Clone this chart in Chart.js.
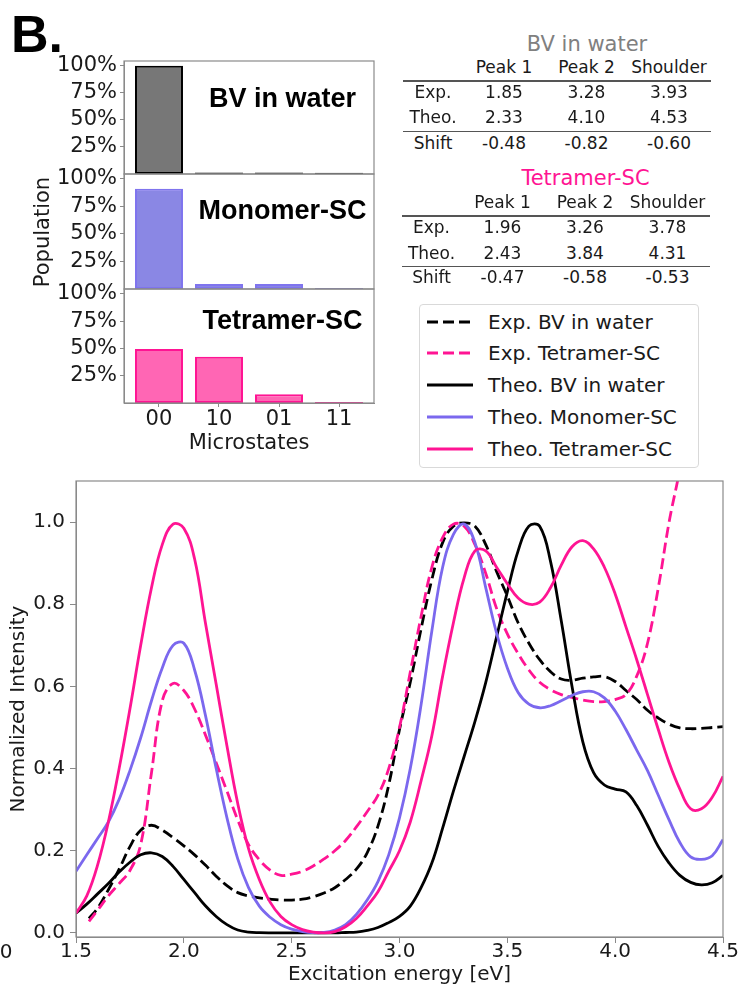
<!DOCTYPE html>
<html><head><meta charset="utf-8">
<script src="https://cdn.jsdelivr.net/npm/chart.js@4"></script>
<style>
html,body{margin:0;padding:0;background:#fff;}
body{width:744px;height:990px;position:relative;overflow:hidden;font-family:"DejaVu Sans",sans-serif;color:#1a1a1a;}
canvas{position:absolute;left:0;}
.t{position:absolute;white-space:nowrap;line-height:1;}
.c{transform:translate(-50%,-50%);}
.l{transform:translate(0,-50%);}
.rule{position:absolute;height:1.5px;background:#555;}
#legend{position:absolute;left:419px;top:304px;width:278px;height:162px;border:1px solid #d9d9d9;border-radius:4px;background:#fff;z-index:3;}
</style></head><body>
<canvas id="bar1" width="390" height="145" style="top:45px"></canvas>
<canvas id="bar2" width="390" height="147" style="top:158px"></canvas>
<canvas id="bar3" width="390" height="187" style="top:273px"></canvas>
<canvas id="main" width="744" height="530" style="top:460px"></canvas>
<div id="legend"></div>
<script>
// ---------------- DATA ----------------
const microstates = ['00', '10', '01', '11'];
const popBV       = [1.00, 0.015, 0.015, 0.012];
const popMonomer  = [0.91, 0.045, 0.045, 0.008];
const popTetramer = [0.495, 0.425, 0.08, 0.01];
const popTicks = [0.25, 0.5, 0.75, 1.0];

const panelNames = ['BV in water', 'Monomer-SC', 'Tetramer-SC'];

const tableCols = ['Peak 1', 'Peak 2', 'Shoulder'];
const tableRows = ['Exp.', 'Theo.', 'Shift'];
const tableBV  = [['1.85', '3.28', '3.93'], ['2.33', '4.10', '4.53'], ['-0.48', '-0.82', '-0.60']];
const tableTet = [['1.96', '3.26', '3.78'], ['2.43', '3.84', '4.31'], ['-0.47', '-0.58', '-0.53']];

const energyTheo = [1.50,1.55,1.60,1.65,1.70,1.75,1.80,1.85,1.90,1.95,
                    2.00,2.05,2.10,2.15,2.20,2.25,2.30,2.35,2.40,2.45,
                    2.50,2.55,2.60,2.65,2.70,2.75,2.80,2.85,2.90,2.95,
                    3.00,3.05,3.10,3.15,3.20,3.25,3.30,3.35,3.40,3.45,
                    3.50,3.55,3.60,3.65,3.70,3.75,3.80,3.85,3.90,3.95,
                    4.00,4.05,4.10,4.15,4.20,4.25,4.30,4.35,4.40,4.45,
                    4.50];
const theoBV = [0.048,0.07,0.095,0.12,0.148,0.172,0.19,0.195,0.186,0.162,
                0.13,0.098,0.066,0.04,0.02,0.007,0.002,0.0005,0,0,
                0,0,0,0,0,0.001,0.002,0.006,0.013,0.025,
                0.04,0.065,0.11,0.17,0.255,0.345,0.43,0.515,0.61,0.72,
                0.83,0.93,0.99,0.99,0.905,0.76,0.6,0.465,0.39,0.36,
                0.35,0.343,0.31,0.262,0.21,0.17,0.14,0.123,0.117,0.122,
                0.14];
const theoMonomer = [0.15,0.19,0.23,0.27,0.325,0.395,0.475,0.565,0.645,0.70,
                     0.705,0.64,0.53,0.40,0.28,0.18,0.11,0.065,0.038,0.02,
                     0.009,0.003,0.0005,0.001,0.007,0.02,0.045,0.08,0.125,0.19,
                     0.28,0.40,0.555,0.735,0.89,0.97,0.995,0.95,0.84,0.73,
                     0.645,0.585,0.557,0.548,0.553,0.565,0.578,0.587,0.587,0.572,
                     0.54,0.495,0.445,0.395,0.335,0.275,0.22,0.185,0.179,0.188,
                     0.227];
const theoTetramer = [0.048,0.09,0.165,0.27,0.40,0.545,0.70,0.84,0.945,0.995,
                      0.985,0.91,0.755,0.605,0.455,0.315,0.205,0.13,0.075,0.04,
                      0.02,0.008,0.002,0.0,0.003,0.015,0.035,0.065,0.10,0.15,
                      0.20,0.27,0.37,0.48,0.625,0.755,0.865,0.93,0.93,0.89,
                      0.85,0.815,0.80,0.805,0.84,0.895,0.94,0.955,0.935,0.89,
                      0.825,0.745,0.665,0.58,0.495,0.415,0.35,0.302,0.302,0.33,
                      0.381];

const energyExp = [1.56,1.60,1.65,1.70,1.75,1.80,1.85,1.90,1.95,
                   2.00,2.05,2.10,2.15,2.20,2.25,2.30,2.35,2.40,2.45,
                   2.50,2.55,2.60,2.65,2.70,2.75,2.80,2.85,2.90,2.95,
                   3.00,3.05,3.10,3.15,3.20,3.25,3.30,3.35,3.40,3.45,
                   3.50,3.55,3.60,3.65,3.70,3.75,3.80,3.85,3.90,3.95,
                   4.00,4.05,4.10,4.15,4.20,4.25,4.30,4.35,4.40,4.45,
                   4.50];
const expBV = [0.035,0.06,0.105,0.155,0.21,0.25,0.262,0.25,0.232,
               0.212,0.19,0.165,0.138,0.115,0.098,0.09,0.085,0.082,0.08,
               0.08,0.082,0.088,0.097,0.11,0.13,0.155,0.195,0.26,0.36,
               0.495,0.61,0.74,0.86,0.95,0.99,0.998,0.99,0.945,0.88,
               0.82,0.755,0.705,0.665,0.636,0.618,0.615,0.62,0.623,0.624,
               0.612,0.59,0.568,0.542,0.523,0.508,0.499,0.497,0.498,0.50,
               0.502];
const expTetramer = [0.028,0.055,0.09,0.12,0.152,0.215,0.39,0.565,0.607,
                     0.59,0.545,0.482,0.414,0.345,0.275,0.215,0.178,0.153,0.14,
                     0.143,0.15,0.163,0.18,0.20,0.225,0.258,0.295,0.335,0.40,
                     0.50,0.635,0.77,0.89,0.962,0.995,0.99,0.945,0.875,0.79,
                     0.728,0.68,0.64,0.61,0.592,0.58,0.573,0.567,0.563,0.563,
                     0.568,0.58,0.625,0.705,0.84,1.0,1.13,1.3,null,null,
                     null];

const energyTicks = [1.5, 2.0, 2.5, 3.0, 3.5, 4.0, 4.5];
const intensityTicks = [0.0, 0.2, 0.4, 0.6, 0.8, 1.0];

const seriesLabels = ['Exp. BV in water', 'Exp. Tetramer-SC', 'Theo. BV in water', 'Theo. Monomer-SC', 'Theo. Tetramer-SC'];

// ---------------- STYLE ----------------
const FAM = "'DejaVu Sans', sans-serif";
const BLACK = '#000000', BLUE = '#7B68EE', PINK = '#FF1493';
const SPINE = '#8a8a8a', TXT = '#1a1a1a';
Chart.defaults.font.family = FAM;
Chart.defaults.color = TXT;

const framePlugin = {
  id: 'frame',
  afterDraw(chart) {
    const a = chart.chartArea, ctx = chart.ctx;
    ctx.save();
    ctx.strokeStyle = SPINE; ctx.lineWidth = 1.2;
    ctx.strokeRect(a.left, a.top, a.right - a.left, a.bottom - a.top);
    ctx.restore();
  }
};

// ---------------- HTML TEXT ----------------
function txt(s, x, y, cls, css) {
  const d = document.createElement('div');
  d.className = 't ' + cls;
  d.textContent = s;
  d.style.left = x + 'px'; d.style.top = y + 'px';
  const parent = css && css.parent ? css.parent : document.body;
  const st = Object.assign({}, css || {}); delete st.parent;
  Object.assign(d.style, st);
  parent.appendChild(d);
  return d;
}
function rule(x1, x2, y) {
  const d = document.createElement('div');
  d.className = 'rule';
  d.style.left = x1 + 'px'; d.style.width = (x2 - x1) + 'px'; d.style.top = (y - 0.75) + 'px';
  document.body.appendChild(d);
}

txt('B.', 37, 34, 'c', {fontFamily: "'Liberation Sans', Arial, sans-serif", fontWeight: 'bold', fontSize: '52px', color: '#000'});
const panelY = [98, 210, 320];
panelNames.forEach((n, i) => txt(n, 282.5, panelY[i], 'c', {fontFamily: "'Liberation Sans', Arial, sans-serif", fontWeight: 'bold', fontSize: '27px', color: '#000'}));
txt('Population', 42, 232, 'c', {fontSize: '21px', transform: 'translate(-50%,-50%) rotate(-90deg)'});
txt('0', 6, 951, 'c', {fontSize: '20px'});

function table(title, color, data, dx, ys) {
  const colX = [433 + dx, 504 + dx, 586.5 + dx, 669 + dx];
  txt(title, 587 + dx, ys.title, 'c', {fontSize: '21px', color: color});
  tableCols.forEach((c, j) => txt(c, colX[j + 1], ys.head, 'c', {fontSize: '17px'}));
  rule(403 + dx, 711 + dx, ys.r1);
  tableRows.forEach((r, i) => {
    txt(r, colX[0], ys.rows[i], 'c', {fontSize: '17px'});
    data[i].forEach((v, j) => txt(v, colX[j + 1], ys.rows[i], 'c', {fontSize: '17px'}));
  });
  rule(403 + dx, 711 + dx, ys.r2);
}
table('BV in water', '#808080', tableBV, 0, {title: 44, head: 66.7, r1: 81, rows: [91.7, 117.3, 143.3], r2: 131.7});
table('Tetramer-SC', PINK, tableTet, -1.5, {title: 178.3, head: 201.7, r1: 216, rows: [227.3, 252.7, 277.3], r2: 266.7});

// ---------------- LEGEND ----------------
const legendStyles = [
  {color: BLACK, dash: '11,5'}, {color: PINK, dash: '11,5'},
  {color: BLACK, dash: ''}, {color: BLUE, dash: ''}, {color: PINK, dash: ''}
];
const legend = document.getElementById('legend');
const legendRowY = [17, 48, 80, 112, 144];
seriesLabels.forEach((lab, i) => {
  const st = legendStyles[i];
  const svgNS = 'http://www.w3.org/2000/svg';
  const svg = document.createElementNS(svgNS, 'svg');
  svg.setAttribute('width', '48'); svg.setAttribute('height', '8');
  svg.style.position = 'absolute'; svg.style.left = '6px'; svg.style.top = (legendRowY[i] - 4) + 'px';
  const ln = document.createElementNS(svgNS, 'line');
  ln.setAttribute('x1', '1'); ln.setAttribute('x2', '47'); ln.setAttribute('y1', '4'); ln.setAttribute('y2', '4');
  ln.setAttribute('stroke', st.color); ln.setAttribute('stroke-width', '3');
  if (st.dash) ln.setAttribute('stroke-dasharray', st.dash);
  svg.appendChild(ln); legend.appendChild(svg);
  txt(lab, 68, legendRowY[i], 'l', {fontSize: '20px', parent: legend});
});

// ---------------- BAR PANELS ----------------
function barChart(id, values, fill, edge, showX) {
  return new Chart(document.getElementById(id), {
    type: 'bar',
    data: {datasets: [{
      data: values.map((v, i) => ({x: i, y: v})),
      backgroundColor: fill, borderColor: edge, borderWidth: 2, borderSkipped: false,
      barPercentage: 1.0, categoryPercentage: 0.8
    }]},
    options: {
      responsive: false, animation: false, devicePixelRatio: 1,
      layout: {padding: {top: 16, bottom: showX ? 0 : 16, left: 0, right: 16}},
      plugins: {legend: {display: false}, tooltip: {enabled: false}},
      scales: {
        x: {
          type: 'linear', min: -0.583, max: 3.583, offset: false, display: showX,
          afterBuildTicks(s) { s.ticks = microstates.map((_, i) => ({value: i})); },
          afterFit(s) { s.height = showX ? 57 : 0; },
          grid: {drawOnChartArea: false, offset: false, tickLength: 4, color: SPINE},
          border: {color: SPINE},
          ticks: {padding: 0, font: {size: 21}, color: TXT, autoSkip: false, maxRotation: 0,
                  callback: v => microstates[v]},
          title: {display: true, text: 'Microstates', font: {size: 21}, color: TXT, padding: {top: 0, bottom: 4}}
        },
        y: {
          min: 0, max: 1.045,
          afterBuildTicks(s) { s.ticks = popTicks.map(v => ({value: v})); },
          afterFit(s) { s.width = 124; },
          grid: {drawOnChartArea: false, tickLength: 4, color: SPINE},
          border: {color: SPINE},
          ticks: {padding: 3, font: {size: 21}, color: TXT, callback: v => Math.round(v * 100) + '%'}
        }
      }
    },
    plugins: [framePlugin]
  });
}
barChart('bar1', popBV, '#777777', '#000000', false);
barChart('bar2', popMonomer, '#8a87e4', '#7f74ee', false);
barChart('bar3', popTetramer, '#ff66b4', PINK, true);

// ---------------- MAIN SPECTRUM ----------------
function series(xs, ys, label, color, dashed) {
  return {
    label, data: xs.map((x, i) => ({x, y: ys[i]})),
    borderColor: color, borderWidth: 2.8, borderDash: dashed ? [11, 5] : [],
    pointRadius: 0, fill: false, tension: 0.4, spanGaps: false
  };
}
const mainSets = [
  series(energyExp, expBV, seriesLabels[0], BLACK, true),
  series(energyExp, expTetramer, seriesLabels[1], PINK, true),
  series(energyTheo, theoBV, seriesLabels[2], BLACK, false),
  series(energyTheo, theoMonomer, seriesLabels[3], BLUE, false),
  series(energyTheo, theoTetramer, seriesLabels[4], PINK, false)
];
mainSets.forEach((d, i) => d.order = mainSets.length - i);

new Chart(document.getElementById('main'), {
  type: 'line',
  data: {datasets: mainSets},
  options: {
    responsive: false, animation: false, devicePixelRatio: 1,
    layout: {padding: {top: 21, right: 21, left: 0, bottom: 0}},
    plugins: {legend: {display: false}, tooltip: {enabled: false}},
    scales: {
      x: {
        type: 'linear', min: 1.5, max: 4.5,
        afterBuildTicks(s) { s.ticks = energyTicks.map(v => ({value: v})); },
        afterFit(s) { s.height = 53; },
        grid: {drawOnChartArea: false, tickLength: 6, color: SPINE},
        border: {color: SPINE},
        ticks: {padding: -3, font: {size: 20}, color: TXT, autoSkip: false, maxRotation: 0, callback: v => v.toFixed(1)},
        title: {display: true, text: 'Excitation energy [eV]', font: {size: 20}, color: TXT, padding: {top: 0, bottom: 3}}
      },
      y: {
        min: -0.01, max: 1.1,
        afterBuildTicks(s) { s.ticks = intensityTicks.map(v => ({value: v})); },
        afterFit(s) { s.width = 76; },
        grid: {drawOnChartArea: false, tickLength: 6, color: SPINE},
        border: {color: SPINE},
        ticks: {padding: 5, font: {size: 20}, color: TXT, callback: v => v.toFixed(1)},
        title: {display: true, text: 'Normalized Intensity', font: {size: 20}, color: TXT, padding: {top: 7, bottom: 0}}
      }
    }
  },
  plugins: [framePlugin]
});
</script>
</body></html>
